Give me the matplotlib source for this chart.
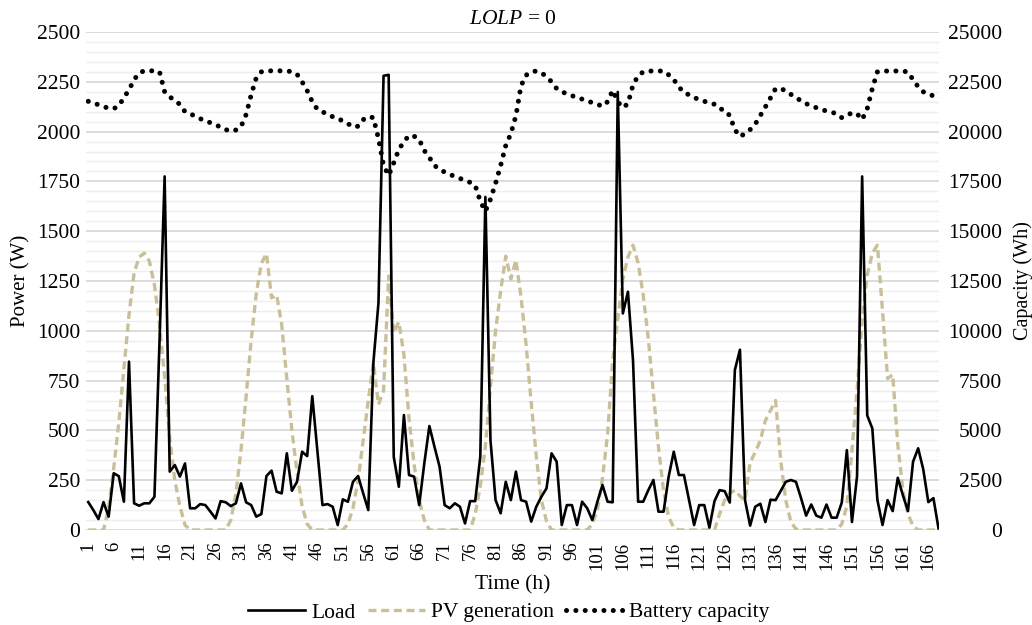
import numpy as np
import matplotlib
matplotlib.use('Agg')
import matplotlib.pyplot as plt
from matplotlib.ticker import MultipleLocator

plt.rcParams['font.family'] = ['Liberation Serif', 'DejaVu Serif']
plt.rcParams['mathtext.fontset'] = 'custom'
plt.rcParams['mathtext.rm'] = 'Liberation Serif'
plt.rcParams['mathtext.it'] = 'Liberation Serif:italic'

hours = np.arange(1, 169)
tick_hours = list(range(1, 168, 5))

# load (W), hour 1..168
load = [
    140, 100, 55, 140, 67, 285, 270, 142, 845, 134,
    122, 134, 134, 167, 950, 1775, 293, 326, 268, 334,
    109, 109, 130, 125, 92, 58, 145, 139, 120, 134,
    234, 139, 125, 67, 80, 271, 298, 192, 184, 385,
    197, 242, 393, 371, 672, 400, 125, 130, 117, 25,
    154, 142, 242, 271, 184, 100, 840, 1140, 2280, 2285,
    368, 217, 577, 276, 268, 125, 334, 522, 418, 318,
    125, 109, 134, 117, 33, 145, 145, 368, 1672, 450,
    150, 84, 242, 150, 293, 150, 142, 42, 117, 167,
    209, 385, 343, 25, 125, 125, 25, 142, 109, 50,
    142, 226, 142, 139, 2199, 1087, 1196, 850, 142, 142,
    200, 251, 92, 92, 268, 393, 276, 276, 150, 25,
    125, 125, 12, 145, 200, 195, 138, 803, 905, 150,
    22, 117, 132, 40, 152, 150, 196, 242, 251, 242,
    160, 72, 128, 72, 62, 128, 62, 62, 138, 401,
    40, 270, 1775, 575, 510, 150, 25, 150, 95, 262,
    175, 95, 343, 410, 305, 140, 160, 8,
]

# PV generation (W)
pv = [
    0, 0, 0, 0, 110, 310, 540, 810, 1080, 1290,
    1370, 1390, 1350, 1230, 1030, 770, 460, 250, 120, 25,
    0, 0, 0, 0, 0, 0, 0, 0, 50, 184,
    401, 669, 953, 1187, 1338, 1388, 1165, 1180, 1030, 760,
    500, 290, 120, 30, 0, 0, 0, 0, 0, 0,
    0, 30, 110, 250, 450, 650, 840, 630, 700, 1275,
    990, 1045, 880, 560, 330, 150, 50, 0, 0, 0,
    0, 0, 0, 0, 0, 0, 80, 220, 420, 720,
    1000, 1200, 1375, 1260, 1355, 1170, 930, 640, 370, 150,
    45, 0, 0, 0, 0, 0, 0, 0, 0, 30,
    100, 260, 480, 850, 1060, 1260, 1370, 1430, 1340, 1180,
    960, 685, 415, 195, 65, 12, 0, 0, 0, 0,
    0, 0, 0, 0, 80, 150, 185, 200, 170, 150,
    340, 390, 450, 550, 600, 650, 350, 150, 40, 5,
    0, 0, 0, 0, 0, 0, 0, 0, 30, 120,
    400, 700, 1050, 1280, 1390, 1430, 1100, 760, 780, 430,
    200, 80, 20, 0, 0, 0, 0, 0,
]

# battery capacity (Wh)
battery = [
    21520, 21430, 21350, 21250, 21180, 21150, 21300, 21700, 22100, 22600,
    22950, 23050, 23050, 23050, 23000, 22000, 21750, 21550, 21370, 21000,
    20900, 20770, 20650, 20520, 20450, 20350, 20220, 20100, 20020, 20080,
    20250, 20850, 21850, 22700, 23000, 23050, 23050, 23050, 23050, 23050,
    23000, 22880, 22500, 22050, 21500, 21120, 21000, 20850, 20750, 20680,
    20520, 20400, 20230, 20270, 20600, 20750, 20700, 19650, 18300, 17800,
    18430, 19100, 19500, 19800, 19770, 19600, 19050, 18700, 18300, 18100,
    17970, 17850, 17750, 17650, 17550, 17450, 17300, 16500, 16000, 16600,
    17400, 18300, 19300, 19900, 20800, 22300, 22830, 23000, 23040, 22960,
    22750, 22500, 22160, 22000, 21900, 21800, 21720, 21630, 21550, 21450,
    21370, 21270, 21500, 22070, 21500, 21200, 21400, 22350, 22800, 23000,
    23040, 23040, 23040, 23040, 22850, 22610, 22250, 21950, 21850, 21700,
    21620, 21520, 21450, 21370, 21150, 21080, 20800, 20100, 19750, 19900,
    20100, 20370, 20800, 21240, 21690, 22160, 22160, 22050, 21870, 21700,
    21550, 21400, 21300, 21200, 21100, 21040, 20970, 20900, 20700, 20800,
    20950, 20900, 20600, 21150, 22160, 23000, 23040, 23040, 23040, 23040,
    23040, 22990, 22610, 22250, 22000, 21870, 21800, 21740,
]

pv_color = '#c9bf98'

fig = plt.figure(figsize=(10.32, 6.25), dpi=100)
ax = fig.add_axes([0.0833, 0.152, 0.8269, 0.7968])
ax2 = ax.twinx()

l1, = ax.plot(hours, pv, color=pv_color, lw=2.4, dashes=(2.4, 1.4), label='PV generation', zorder=2)
l0, = ax.plot(hours, load, color='black', lw=1.9, label='Load', zorder=3)
l2, = ax2.plot(hours, battery, color='black', lw=3.6, dashes=(0.01, 1.86),
               dash_capstyle='round', label='Battery capacity')

ax.set_xlim(0.55, 168.16)
ax.set_ylim(0, 2500)
ax2.set_ylim(0, 25000)
ax.set_yticks(range(0, 2501, 250))
ax2.set_yticks(range(0, 25001, 2500))
ax.yaxis.set_minor_locator(MultipleLocator(50))
ax.set_xticks(tick_hours)
ax.set_xticklabels([str(t) for t in tick_hours], rotation=90)

ax.grid(which='major', axis='y', color='#d9d9d9', lw=1.3)
ax.grid(which='minor', axis='y', color='#eeeeee', lw=1.0)
ax.set_axisbelow(True)

for a in (ax, ax2):
    for s in a.spines.values():
        s.set_visible(False)
    a.tick_params(axis='both', which='both', length=0)
ax.tick_params(axis='x', pad=8.4, labelsize=13.5)
ax.tick_params(axis='y', pad=4, labelsize=15.5)
ax2.tick_params(axis='y', pad=45, labelsize=15.5)
for lab in ax2.get_yticklabels():
    lab.set_horizontalalignment('right')

ax.set_ylabel('Power (W)', fontsize=15, labelpad=5)
ax2.set_ylabel('Capacity (Wh)', fontsize=14.5, labelpad=8)
ax.set_xlabel('Time (h)', fontsize=15.5, labelpad=4)
ax.set_title(r'$LOLP$ = 0', fontsize=15.5, pad=6)

fig.legend(handles=[l0, l1, l2], loc='lower center', bbox_to_anchor=(0.493, -0.027),
           ncol=3, frameon=False, fontsize=15.5, handlelength=2.65,
           handletextpad=0.28, columnspacing=0.56)

fig.savefig('out.png', dpi=100)
